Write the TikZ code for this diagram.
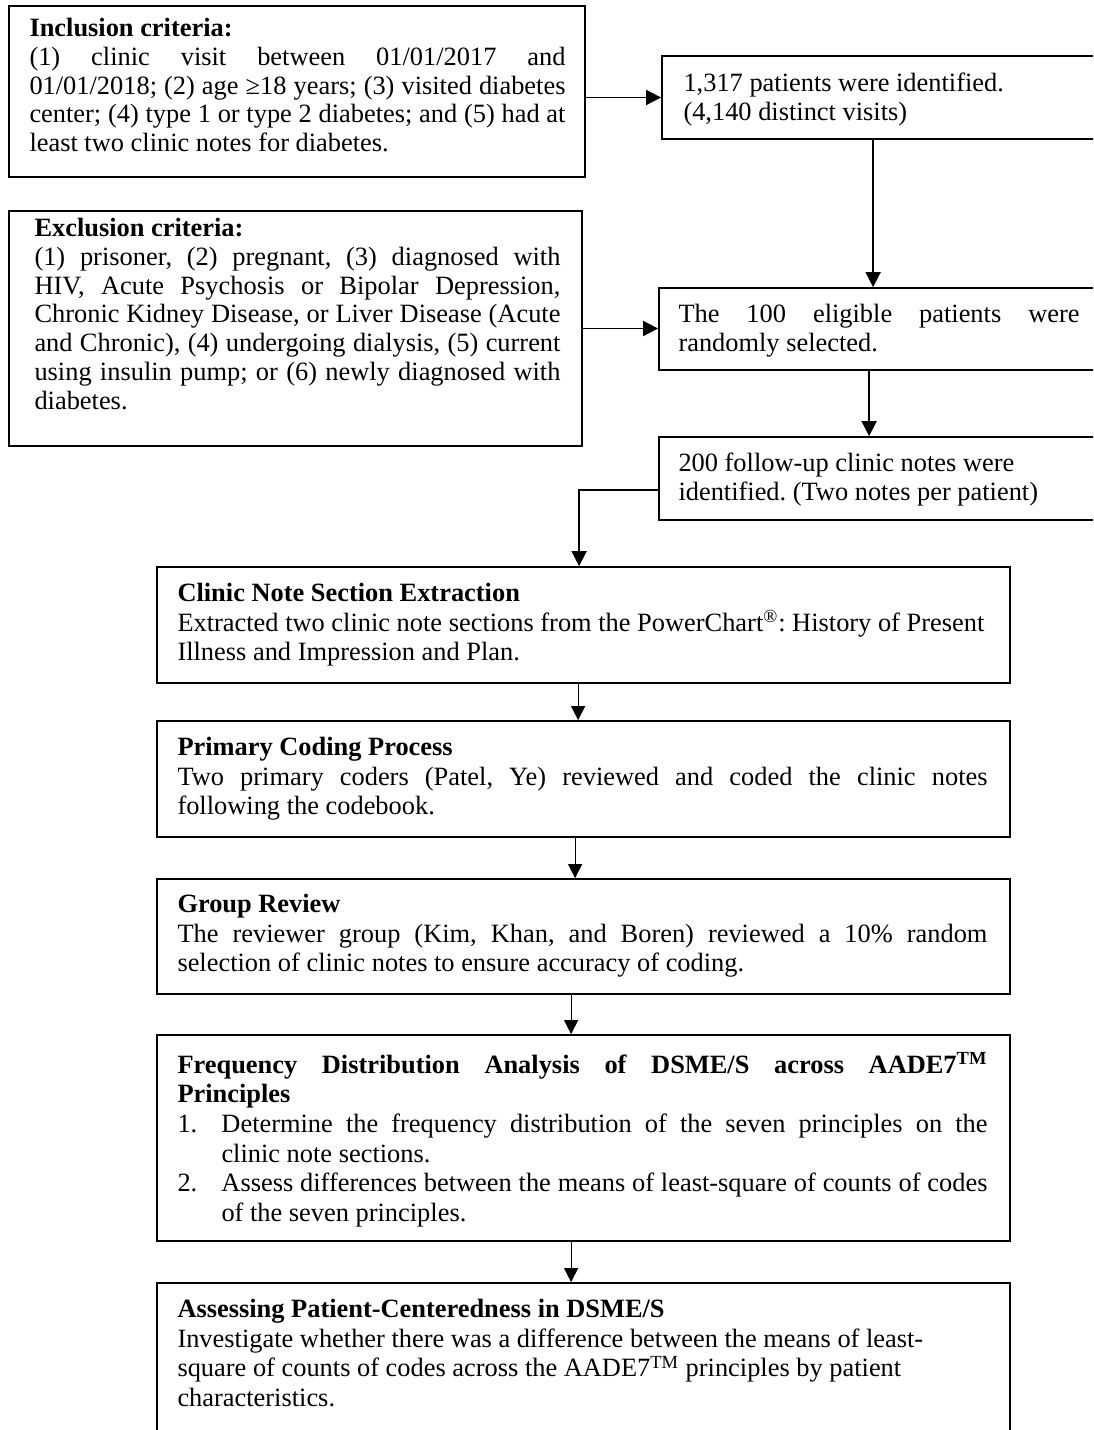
\documentclass[tikz,border=0pt]{standalone}
\usepackage{fontspec}
\setmainfont{Liberation Serif}
\usetikzlibrary{fit,arrows.meta,calc}
\newlength\tw
\newcommand\jl[1]{\makebox[\tw][s]{#1}}
\newcommand\fs{\spaceskip=0pt\xspaceskip=0pt\rule{0pt}{9.5pt}}
\frenchspacing
\begin{document}
\begin{tikzpicture}[x=0.5pt,y=-0.5pt,
  box/.style={draw, line width=0.9pt, inner sep=0pt},
  txt/.style={anchor=north west, inner sep=0pt, align=left, font={\fontsize{13.2pt}{14.4pt}\selectfont\frenchspacing}},
  ltxt/.style={anchor=north west, inner sep=0pt, align=left, text width=420pt, font={\fontsize{13.2pt}{14.8pt}\selectfont\frenchspacing}},
  conn/.style={line width=0.9pt, -{Triangle[length=7.5pt,width=7.5pt]}},
  lconn/.style={line width=0.6pt, -{Triangle[length=7pt,width=7pt]}}]
\useasboundingbox (0,0) rectangle (1093,1430);
\fill[white] (0,0) rectangle (1093,1430);
\clip (0,0) rectangle (1093,1430);

% upper boxes
\node[box, fit={(9,6)(585,177)}] (inc) {};
\node[txt, text width=268pt] (inct) at ([xshift=10.5pt,yshift=-6pt]inc.north west)
 {\setlength\tw{268pt}\fs\textbf{Inclusion criteria:}\\
  \jl{(1) clinic visit between 01/01/2017 and}\\
  \jl{01/01/2018; (2) age ≥18 years; (3) visited diabetes}\\
  \jl{center; (4) type 1 or type 2 diabetes; and (5) had at}\\
  least two clinic notes for diabetes.};

\node[box, fit={(9,211)(582,446)}] (exc) {};
\node[txt, text width=263pt] (exct) at ([xshift=13pt,yshift=-3.5pt]exc.north west)
 {\setlength\tw{263pt}\fs\textbf{Exclusion criteria:}\\
  \jl{(1) prisoner, (2) pregnant, (3) diagnosed with}\\
  \jl{HIV, Acute Psychosis or Bipolar Depression,}\\
  \jl{Chronic Kidney Disease, or Liver Disease (Acute}\\
  \jl{and Chronic), (4) undergoing dialysis, (5) current}\\
  \jl{using insulin pump; or (6) newly diagnosed with}\\
  diabetes.};

\node[box, fit={(662,56)(1110,139)}] (r1) {};
\node[txt, text width=220pt] (r1t) at ([xshift=11pt,yshift=-8.5pt]r1.north west)
 {\fs 1,317 patients were identified.\\(4,140 distinct visits)};

\node[box, fit={(659,288)(1110,370)}] (r2) {};
\node[txt, text width=200.5pt] (r2t) at ([xshift=10pt,yshift=-8pt]r2.north west)
 {\setlength\tw{200.5pt}\fs\jl{The 100 eligible patients were}\\randomly selected.};

\node[box, fit={(659,437)(1110,520)}] (r3) {};
\node[txt, text width=220pt] (r3t) at ([xshift=10pt,yshift=-8pt]r3.north west)
 {\fs 200 follow-up clinic notes were\\identified. (Two notes per patient)};

% lower boxes
\node[box, fit={(157,567)(1010,683)}] (b5) {};
\node[ltxt] (b5t) at ([xshift=10.5pt,yshift=-8pt]b5.north west)
 {\fs\textbf{Clinic Note Section Extraction}\\
  Extracted two clinic note sections from the PowerChart\textsuperscript{®}: History of Present\\
  Illness and Impression and Plan.};

\node[box, fit={(157,721)(1010,837)}] (b6) {};
\node[ltxt] (b6t) at ([xshift=10.5pt,yshift=-8pt]b6.north west)
 {\setlength\tw{405pt}\fs\textbf{Primary Coding Process}\\
  \jl{Two primary coders (Patel, Ye) reviewed and coded the clinic notes}\\
  following the codebook.};

\node[box, fit={(157,879)(1010,994)}] (b7) {};
\node[ltxt] (b7t) at ([xshift=10.5pt,yshift=-7.5pt]b7.north west)
 {\setlength\tw{405pt}\fs\textbf{Group Review}\\
  \jl{The reviewer group (Kim, Khan, and Boren) reviewed a 10\% random}\\
  selection of clinic notes to ensure accuracy of coding.};

\node[box, fit={(157,1035)(1010,1241)}] (b8) {};
\node[ltxt] (b8t) at ([xshift=10.5pt,yshift=-9pt]b8.north west)
 {\setlength\tw{405pt}\fs\jl{\textbf{Frequency Distribution Analysis of DSME/S across AADE7\textsuperscript{TM}}}\\
  \textbf{Principles}\\
  \makebox[22pt][l]{1.}\makebox[383pt][s]{Determine the frequency distribution of the seven principles on the}\\
  \hspace*{22pt}clinic note sections.\\
  \makebox[22pt][l]{2.}\makebox[383pt][s]{Assess differences between the means of least-square of counts of codes}\\
  \hspace*{22pt}of the seven principles.};

\node[box, fit={(157,1283)(1010,1470)}] (b9) {};
\node[ltxt] (b9t) at ([xshift=10.5pt,yshift=-8pt]b9.north west)
 {\fs\textbf{Assessing Patient-Centeredness in DSME/S}\\
  Investigate whether there was a difference between the means of least-\\
  square of counts of codes across the AADE7\textsuperscript{TM} principles by patient\\
  characteristics.};

% connectors
\draw[conn] (inc.east |- r1.west) -- (r1.west);
\draw[conn] ([xshift=106pt]r1.south west) -- ([xshift=106pt]r1.south west |- r2.north);
\draw[conn] (exc.east) -- (exc.east -| r2.west);
\draw[conn] ([xshift=105.5pt]r2.south west) -- ([xshift=105.5pt]r2.south west |- r3.north);
\draw[conn] ([yshift=-5.75pt]r3.west) -| ([xshift=211.5pt]b5.north west);
\draw[lconn] ([xshift=211pt]b5.south west) -- ([xshift=211pt]b5.south west |- b6.north);
\draw[lconn] ([xshift=209.5pt]b6.south west) -- ([xshift=209.5pt]b6.south west |- b7.north);
\draw[lconn] ([xshift=207.5pt]b7.south west) -- ([xshift=207.5pt]b7.south west |- b8.north);
\draw[lconn] ([xshift=207.5pt]b8.south west) -- ([xshift=207.5pt]b8.south west |- b9.north);
\end{tikzpicture}
\end{document}
